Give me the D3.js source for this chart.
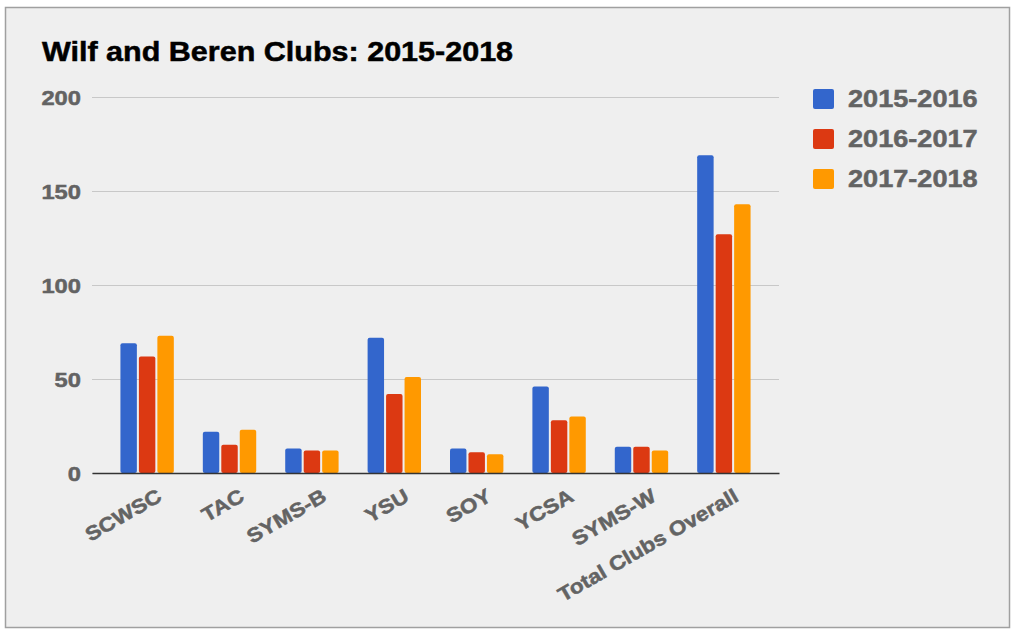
<!DOCTYPE html>
<html>
<head>
<meta charset="utf-8">
<script src="https://cdn.jsdelivr.net/npm/d3@7"></script>
<style>
  body { margin: 0; background: #fff; }
  text { font-family: "Liberation Sans", Arial, sans-serif; font-weight: bold; }
</style>
</head>
<body>
<svg id="chart"></svg>
<script>
// chart data
const categories = ["SCWSC", "TAC", "SYMS-B", "YSU", "SOY", "YCSA", "SYMS-W", "Total Clubs Overall"];
const seriesNames = ["2015-2016", "2016-2017", "2017-2018"];
const values2015 = [69, 22, 13, 72, 13, 46, 14, 169];
const values2016 = [62, 15, 12, 42, 11, 28, 14, 127];
const values2017 = [73, 23, 12, 51, 10, 30, 12, 143];
const yTicks = [0, 50, 100, 150, 200];

const colors = ["#3366cc", "#dc3912", "#ff9900"];
const allValues = [values2015, values2016, values2017];

const width = 1024;
const height = 638;
const stretch = 1.13; // the original picture is a little wider than the font

const svg = d3.select("#chart")
    .attr("width", width)
    .attr("height", height);

// grey panel with border
svg.append("rect")
    .attr("x", 5.5)
    .attr("y", 7.5)
    .attr("width", 1004)
    .attr("height", 620)
    .attr("fill", "#efefef")
    .attr("stroke", "#a0a0a0")
    .attr("stroke-width", 1.5);

// scales
const yScale = d3.scaleLinear()
    .domain([0, 200])
    .range([473, 97]);

const xScale = d3.scaleBand()
    .domain(categories)
    .range([92, 779])
    .paddingInner(0.352)
    .paddingOuter(0.345);

const innerScale = d3.scaleBand()
    .domain(seriesNames)
    .range([0, xScale.bandwidth()])
    .paddingInner(0.11);

// stretch text a bit and thicken it like the blurry bold of the original
function widen(sel, colour) {
    sel.attr("textLength", function () { return this.getComputedTextLength() * stretch; })
        .attr("lengthAdjust", "spacingAndGlyphs")
        .attr("stroke", colour)
        .attr("stroke-width", 0.5);
}

// gridlines
svg.append("g")
    .attr("transform", "translate(92,0)")
    .call(d3.axisLeft(yScale).tickValues(yTicks).tickSize(-687).tickFormat(""))
    .call(g => g.select(".domain").remove())
    .selectAll("line")
    .attr("stroke", "#c8c8c8")
    .attr("stroke-width", 1.2);

// y tick labels
const yLabels = svg.append("g")
    .selectAll("text")
    .data(yTicks)
    .enter()
    .append("text")
    .attr("x", 81)
    .attr("y", d => yScale(d))
    .attr("dy", "0.36em")
    .attr("text-anchor", "end")
    .attr("fill", "#636363")
    .attr("font-size", "21px")
    .text(d => d);
widen(yLabels, "#636363");

// bars
const groups = svg.append("g")
    .selectAll("g")
    .data(categories)
    .enter()
    .append("g")
    .attr("transform", d => `translate(${xScale(d)},0)`);

groups.selectAll("rect")
    .data((d, i) => seriesNames.map((s, j) => ({ series: s, value: allValues[j][i], color: colors[j] })))
    .enter()
    .append("rect")
    .attr("x", d => innerScale(d.series))
    .attr("y", d => yScale(d.value))
    .attr("width", innerScale.bandwidth())
    .attr("height", d => yScale(0) - yScale(d.value))
    .attr("rx", 2)
    .attr("fill", d => d.color);

// baseline
svg.append("g")
    .attr("transform", `translate(0, ${yScale(0)})`)
    .call(d3.axisBottom(xScale).tickSize(0).tickFormat(""))
    .select(".domain")
    .attr("stroke", "#333")
    .attr("stroke-width", 1.6);

// x labels, rotated
const xLabels = svg.append("g")
    .selectAll("text")
    .data(categories)
    .enter()
    .append("text")
    .attr("transform", d => `translate(${xScale(d) + xScale.bandwidth() / 2 + 16}, 500) rotate(-30)`)
    .attr("text-anchor", "end")
    .attr("fill", "#636363")
    .attr("font-size", "20px")
    .text(d => d);
widen(xLabels, "#636363");

// title
const title = svg.append("text")
    .attr("x", 42)
    .attr("y", 61)
    .attr("fill", "#000")
    .attr("font-size", "27px")
    .text("Wilf and Beren Clubs: 2015-2018");
widen(title, "#000");

// legend
const legend = svg.append("g")
    .selectAll("g")
    .data(seriesNames)
    .enter()
    .append("g")
    .attr("transform", (d, i) => `translate(813, ${89 + i * 40})`);

legend.append("rect")
    .attr("width", 21)
    .attr("height", 20)
    .attr("rx", 2)
    .attr("fill", (d, i) => colors[i]);

const legendText = legend.append("text")
    .attr("x", 35)
    .attr("y", 18)
    .attr("fill", "#636363")
    .attr("font-size", "24px")
    .text(d => d);
widen(legendText, "#636363");
</script>
</body>
</html>
